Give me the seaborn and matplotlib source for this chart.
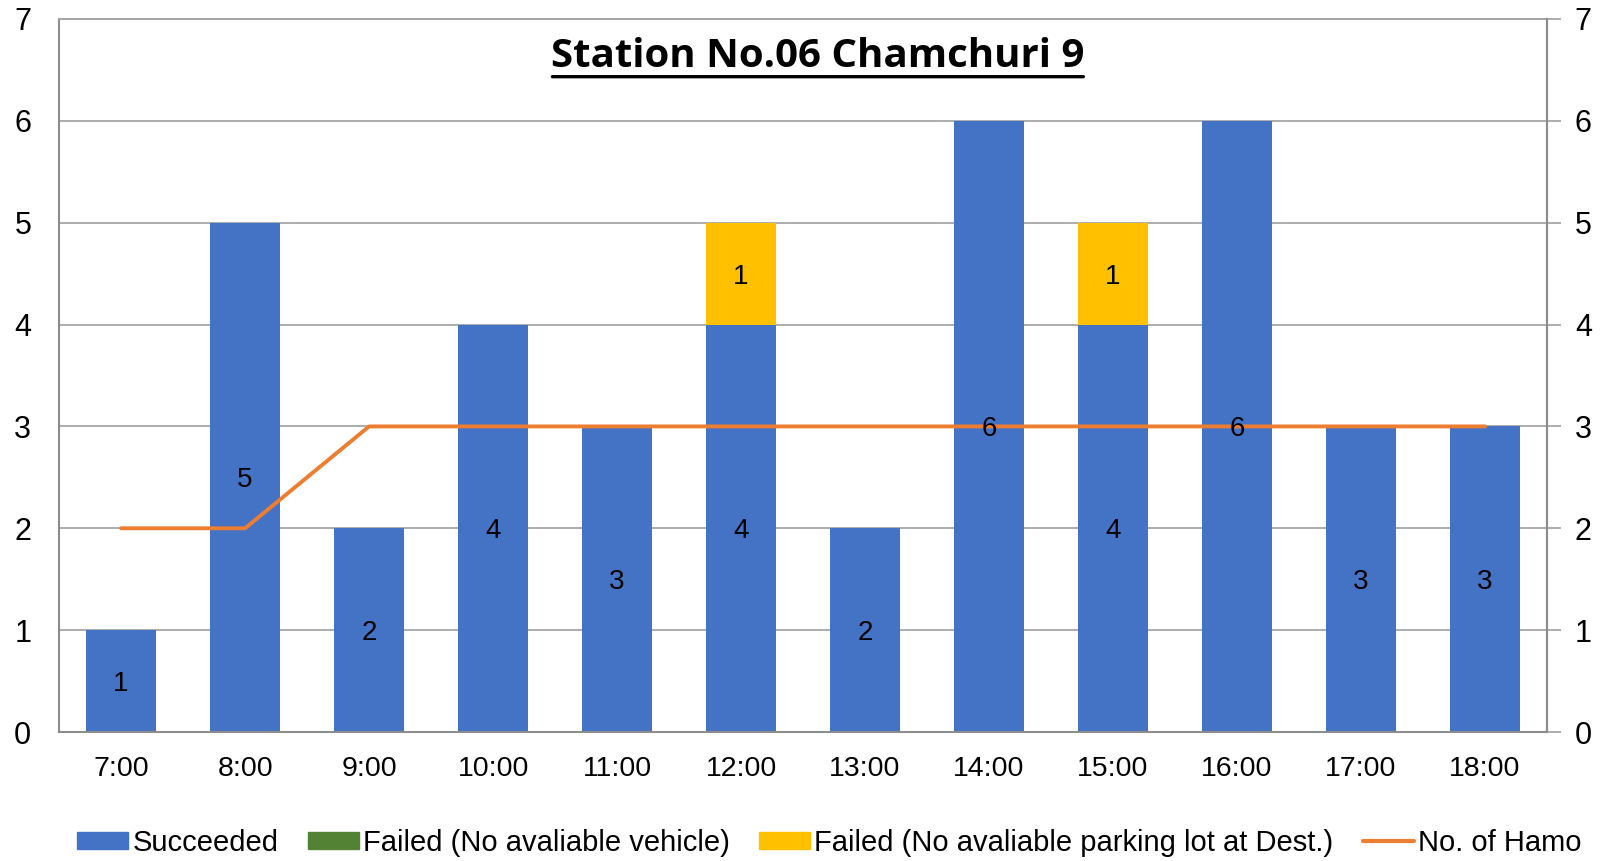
import numpy as np
import pandas as pd
import matplotlib
matplotlib.use("Agg")
import matplotlib.pyplot as plt
import seaborn as sns
from matplotlib.patches import Patch
from matplotlib.lines import Line2D

hours = ["7:00", "8:00", "9:00", "10:00", "11:00", "12:00",
         "13:00", "14:00", "15:00", "16:00", "17:00", "18:00"]
succeeded = [1, 5, 2, 4, 3, 4, 2, 6, 4, 6, 3, 3]
failed_vehicle = [0, 0, 0, 0, 0, 0, 0, 0, 0, 0, 0, 0]
failed_parking = [0, 0, 0, 0, 0, 1, 0, 0, 1, 0, 0, 0]
no_of_hamo = [2, 2, 3, 3, 3, 3, 3, 3, 3, 3, 3, 3]

c_succ = "#4472C4"
c_veh = "#548235"
c_park = "#FFC000"
c_line = "#ED7D31"
c_grid = "#A6A6A6"

sns.set_theme(style="white")
plt.rcParams['font.family'] = ['Liberation Sans', 'DejaVu Sans']
plt.rcParams['text.color'] = 'black'
plt.rcParams['xtick.color'] = 'black'
plt.rcParams['ytick.color'] = 'black'

df = pd.DataFrame({"hour": hours, "succ": succeeded,
                   "veh": failed_vehicle, "park": failed_parking,
                   "hamo": no_of_hamo})
df["lvl2"] = df["succ"] + df["veh"]
df["lvl3"] = df["lvl2"] + df["park"]

fig = plt.figure(figsize=(16.01, 8.61), dpi=100)
ax = fig.add_axes([0.0369, 0.1498, 0.9294, 0.8282])

bw = 0.565
# stacked bars drawn as overlaid cumulative totals
sns.barplot(data=df, x="hour", y="lvl3", color=c_park, width=bw, saturation=1,
            linewidth=0, ax=ax, zorder=2)
sns.barplot(data=df, x="hour", y="lvl2", color=c_veh, width=bw, saturation=1,
            linewidth=0, ax=ax, zorder=2)
sns.barplot(data=df, x="hour", y="succ", color=c_succ, width=bw, saturation=1,
            linewidth=0, ax=ax, zorder=2)

pos = np.arange(len(hours))
sns.lineplot(x=pos, y=df["hamo"], color=c_line, linewidth=2.8, ax=ax, zorder=3)

# data labels
for i, row in df.iterrows():
    if row["succ"] > 0:
        ax.text(i, row["succ"] / 2, str(row["succ"]), ha="center", va="center_baseline",
                fontsize=20, zorder=4)
    if row["park"] > 0:
        ax.text(i, row["lvl2"] + row["park"] / 2, str(row["park"]), ha="center",
                va="center_baseline", fontsize=20, zorder=4)

ax.set_ylim(0, 7)
ax.set_xlim(-0.5, len(hours) - 0.5)
ax.set_yticks(range(8))
ax.yaxis.grid(True, color=c_grid, linewidth=1.3, zorder=0)
ax.set_axisbelow(True)
ax.set_xlabel("")
ax.set_ylabel("")
ax.tick_params(axis="x", length=0, pad=17, labelsize=20.5)
ax.tick_params(axis="y", length=0, pad=20, labelsize=22)
for s in ax.spines.values():
    s.set_color("#8C8C8C")
    s.set_linewidth(1.5)
ax.spines["top"].set_color(c_grid)

ax2 = ax.twinx()
ax2.set_ylim(0, 7)
ax2.set_yticks(range(8))
ax2.tick_params(axis="y", length=10, width=1.3, color=c_grid, labelcolor="black", pad=10, labelsize=22)
for s in ax2.spines.values():
    s.set_visible(False)
ax2.spines["right"].set_visible(True)
ax2.spines["right"].set_color("#8C8C8C")
ax2.spines["right"].set_linewidth(1.5)

ax.text(0.51, 0.948, "Station No.06 Chamchuri 9", transform=ax.transAxes,
        ha="center", va="center", fontsize=29, fontweight="bold",
        family=["Open Sans", "DejaVu Sans"])
# underline for title
ax.annotate("", xy=(0.3315, 0.919), xytext=(0.6884, 0.919), xycoords="axes fraction",
            arrowprops=dict(arrowstyle="-", color="black", linewidth=2.4, shrinkA=0, shrinkB=0))

handles = [Patch(color=c_succ), Patch(color=c_veh), Patch(color=c_park),
           Line2D([0], [0], color=c_line, linewidth=3)]
labels = ["Succeeded", "Failed (No avaliable vehicle)",
          "Failed (No avaliable parking lot at Dest.)", "No. of Hamo"]
fig.legend(handles, labels, loc="center", bbox_to_anchor=(0.518, 0.021), ncol=4,
           frameon=False, fontsize=21, handlelength=1.75, handleheight=0.55,
           handletextpad=0.15, columnspacing=1.0)

fig.savefig("out.png", dpi=100)
